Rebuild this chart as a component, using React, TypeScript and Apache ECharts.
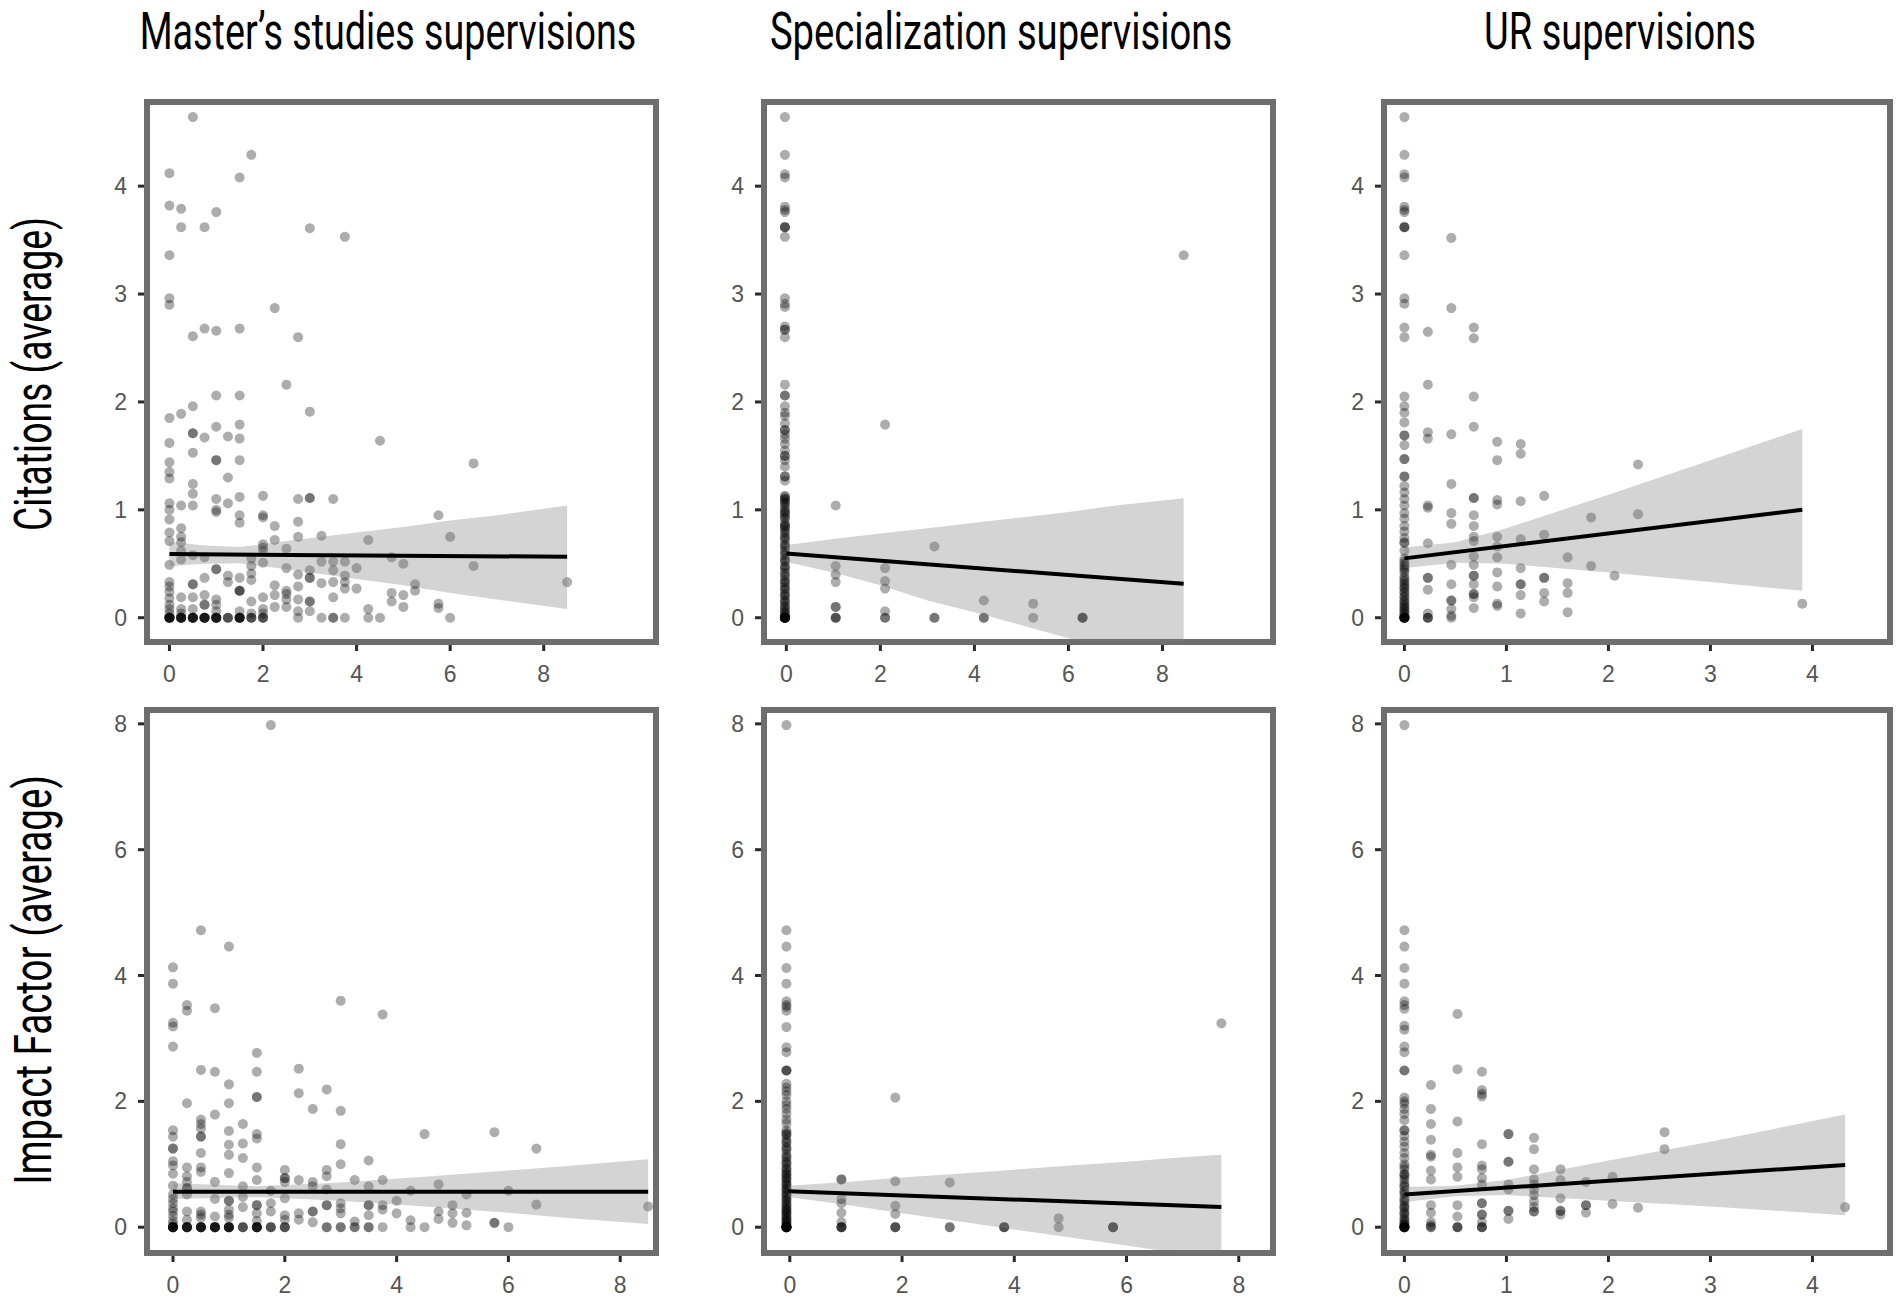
import React, { useEffect, useRef } from "react";
import * as echarts from "echarts";

// ---------- tick labels ----------
const X_TICKS_EVEN = [0, 2, 4, 6, 8];
const X_TICKS_UNIT = [0, 1, 2, 3, 4];
const Y_TICKS_CIT = [0, 1, 2, 3, 4];
const Y_TICKS_IF = [0, 2, 4, 6, 8];

const COLUMN_TITLES = ["Master\u2019s studies supervisions", "Specialization supervisions", "UR supervisions"];
const ROW_TITLES = ["Citations (average)", "Impact Factor (average)"];

// ---------- data: [x, [y values at that x]] ----------
const msCit = [
  [0, [4.12, 3.82, 3.36, 2.96, 2.9, 1.85, 1.62, 1.44, 1.35, 1.29, 1.06, 1.0, 0.91, 0.79, 0.71, 0.49, 0.33, 0.29, 0.24, 0.18, 0.12, 0.08, 0.04, 0, 0, 0, 0, 0, 0, 0]],
  [0.25, [3.79, 3.62, 1.89, 1.04, 0.83, 0.75, 0.7, 0.62, 0.54, 0.19, 0.08, 0.04, 0, 0, 0, 0, 0, 0]],
  [0.5, [4.64, 2.61, 1.96, 1.71, 1.71, 1.53, 1.24, 1.15, 1.04, 0.58, 0.31, 0.31, 0.19, 0.08, 0, 0, 0, 0, 0, 0]],
  [0.75, [3.62, 2.68, 1.67, 0.56, 0.37, 0.21, 0.12, 0.12, 0, 0, 0, 0, 0, 0]],
  [1, [3.76, 2.66, 2.06, 1.77, 1.46, 1.46, 1.1, 1.0, 0.98, 0.45, 0.45, 0.17, 0.12, 0.06, 0, 0, 0, 0, 0, 0]],
  [1.25, [1.68, 1.3, 1.06, 0.39, 0.33, 0, 0, 0]],
  [1.5, [4.08, 2.68, 2.06, 1.79, 1.66, 1.46, 1.12, 0.95, 0.88, 0.37, 0.25, 0.25, 0.25, 0.06, 0, 0, 0, 0, 0, 0]],
  [1.75, [4.29, 0.55, 0.48, 0.41, 0.35, 0.15, 0.04, 0, 0, 0]],
  [2, [1.13, 0.95, 0.93, 0.68, 0.65, 0.62, 0.51, 0.19, 0.08, 0.04, 0, 0, 0]],
  [2.25, [2.87, 0.85, 0.72, 0.3, 0.21, 0.1]],
  [2.5, [2.16, 0.64, 0.46, 0.25, 0.22, 0.17, 0.1]],
  [2.75, [2.6, 1.1, 0.89, 0.75, 0.4, 0.29, 0.17, 0.06, 0]],
  [3, [3.61, 1.91, 1.11, 1.11, 0.44, 0.37, 0.37, 0.15, 0.15, 0.06]],
  [3.25, [0.76, 0.52, 0.32, 0]],
  [3.5, [1.1, 0.52, 0.44, 0.33, 0.19, 0, 0]],
  [3.75, [3.53, 0.52, 0.39, 0.33, 0.27, 0]],
  [4, [0.46, 0.27]],
  [4.25, [0.72, 0.08, 0]],
  [4.5, [1.64, 0]],
  [4.75, [0.56, 0.23, 0.15]],
  [5, [0.5, 0.21, 0.1]],
  [5.25, [0.31, 0.25]],
  [5.75, [0.95, 0.13, 0.09]],
  [6, [0.75, 0]],
  [6.5, [1.43, 0.48]],
  [8.5, [0.33]],
];
const msCitLine = [[0, 0.59], [8.5, 0.565]];
const msCitBand = [
  [0, 0.477, 0.705], [0.75, 0.5, 0.67], [1.5, 0.506, 0.656], [2.5, 0.45, 0.71], [4, 0.36, 0.79],
  [5, 0.3, 0.84], [6, 0.23, 0.9], [7, 0.17, 0.95], [8.5, 0.08, 1.04],
];

const spCit = [
  [-0.03, [4.64, 4.29, 4.11, 4.08, 3.81, 3.78, 3.76, 3.62, 3.62, 3.62, 3.53, 2.96, 2.91, 2.88, 2.7, 2.67, 2.67, 2.6, 2.16, 2.06, 2.06,
    1.96, 1.9, 1.87, 1.8, 1.74, 1.74, 1.7, 1.66, 1.61, 1.55, 1.5, 1.5, 1.46, 1.4, 1.31, 1.31, 1.27, 1.13, 1.1, 1.1, 1.08, 1.05, 1.02, 0.98, 0.97,
    0.95, 0.92, 0.88, 0.85, 0.84, 0.82, 0.78, 0.75, 0.72, 0.68, 0.65, 0.62, 0.58, 0.55, 0.52, 0.48, 0.45, 0.42, 0.38, 0.35, 0.32,
    0.29, 0.26, 0.23, 0.2, 0.17, 0.14, 0.11, 0.08, 0.05, 0.03, 1.12, 1.06, 1.0, 0.93, 0.86, 0.8, 0.74, 0.67, 0.6, 0.53, 0.47,
    0.4, 0.33, 0.27, 0.21, 0.15, 0.1, 0.06, 0.02, 0, 0, 0, 0, 0, 0, 0, 0, 0, 0]],
  [1.05, [1.04, 0.48, 0.4, 0.33, 0.1, 0.1, 0, 0, 0]],
  [2.1, [1.79, 0.46, 0.34, 0.27, 0.06, 0, 0]],
  [3.15, [0.66, 0, 0]],
  [4.2, [0.16, 0, 0]],
  [5.25, [0.13, 0]],
  [6.3, [0, 0, 0]],
  [8.45, [3.36]],
];
const spCitLine = [[0, 0.596], [8.45, 0.314]];
const spCitBand = [
  [0, 0.517, 0.675], [1, 0.42, 0.73], [2, 0.3, 0.78], [3, 0.16, 0.83], [4, 0.05, 0.88],
  [5, -0.07, 0.93], [6, -0.19, 0.98], [7, -0.31, 1.04], [8.45, -0.48, 1.108],
];

const urCit = [
  [0, [4.64, 4.29, 4.11, 4.08, 3.81, 3.78, 3.76, 3.62, 3.62, 3.62, 3.36, 2.96, 2.91, 2.69, 2.6, 2.05, 1.96, 1.9, 1.81, 1.69, 1.69,
    1.6, 1.47, 1.47, 1.31, 1.31, 1.22, 1.16, 1.1, 1.04, 0.97, 0.92, 0.85, 0.8, 0.74, 0.7, 0.69, 0.62, 0.55, 0.5, 0.46, 0.42,
    0.38, 0.34, 0.3, 0.27, 0.23, 0.2, 0.16, 0.13, 0.1, 0.07, 0.04, 0.02, 0.52, 0.44, 0.36, 0.28, 0.19, 0.11, 0.05,
    0.48, 0.32, 0.24, 0.15, 0.08, 0, 0, 0, 0, 0, 0, 0, 0]],
  [0.23, [2.65, 2.16, 1.72, 1.66, 1.04, 1.02, 0.69, 0.37, 0.37, 0.26, 0.04, 0, 0, 0]],
  [0.46, [3.52, 2.87, 1.7, 1.24, 0.97, 0.87, 0.49, 0.31, 0.16, 0.16, 0.08, 0.02, 0]],
  [0.68, [2.69, 2.59, 2.05, 1.77, 1.11, 1.11, 0.95, 0.85, 0.75, 0.71, 0.57, 0.49, 0.39, 0.39, 0.31, 0.22, 0.22, 0.19, 0.09]],
  [0.91, [1.63, 1.46, 1.09, 1.05, 0.75, 0.66, 0.56, 0.42, 0.29, 0.13, 0.11]],
  [1.14, [1.61, 1.52, 1.08, 0.73, 0.46, 0.31, 0.31, 0.21, 0.04]],
  [1.37, [1.13, 0.77, 0.37, 0.37, 0.23, 0.15]],
  [1.6, [0.56, 0.32, 0.23, 0.05]],
  [1.83, [0.93, 0.48]],
  [2.06, [0.39]],
  [2.29, [1.42, 0.96]],
  [3.9, [0.13]],
];
const urCitLine = [[0, 0.55], [3.9, 1.0]];
const urCitBand = [
  [0, 0.46, 0.65], [0.5, 0.51, 0.7], [1, 0.5, 0.83], [2, 0.42, 1.14], [3, 0.33, 1.46], [3.9, 0.25, 1.75],
];

const msIf = [
  [0, [4.13, 3.87, 3.25, 3.19, 2.87, 1.54, 1.44, 1.25, 1.25, 1.05, 0.98, 0.85, 0.66, 0.52, 0.45, 0.38, 0.3, 0.25, 0.18, 0.1, 0.05, 0, 0, 0, 0, 0, 0, 0]],
  [0.25, [3.53, 3.44, 1.97, 0.95, 0.81, 0.72, 0.62, 0.62, 0.52, 0.25, 0.12, 0, 0, 0, 0, 0, 0]],
  [0.5, [4.72, 2.5, 1.71, 1.64, 1.57, 1.44, 1.44, 1.18, 0.95, 0.88, 0.25, 0.2, 0.15, 0, 0, 0, 0, 0, 0]],
  [0.75, [3.48, 2.47, 1.79, 0.72, 0.45, 0.17, 0, 0, 0, 0, 0, 0]],
  [1, [4.46, 2.27, 1.97, 1.53, 1.31, 1.15, 0.86, 0.42, 0.42, 0.28, 0.2, 0.15, 0, 0, 0, 0, 0, 0]],
  [1.25, [1.64, 1.33, 1.1, 0.65, 0.48, 0.32, 0, 0, 0]],
  [1.5, [2.77, 2.47, 2.07, 2.07, 1.48, 1.41, 0.95, 0.75, 0.35, 0.35, 0.22, 0.1, 0, 0, 0, 0, 0, 0]],
  [1.75, [7.98, 0.58, 0.38, 0.25, 0, 0, 0]],
  [2, [0.91, 0.78, 0.78, 0.72, 0.46, 0.19, 0.12, 0, 0, 0]],
  [2.25, [2.52, 2.13, 0.75, 0.22, 0.12]],
  [2.5, [1.88, 0.72, 0.65, 0.25, 0.25, 0.08]],
  [2.75, [2.19, 0.91, 0.81, 0.6, 0.35, 0.35, 0, 0]],
  [3, [3.6, 1.85, 1.32, 1.0, 0.38, 0.3, 0.22, 0, 0]],
  [3.25, [0.75, 0.09, 0, 0]],
  [3.5, [1.06, 0.65, 0.35, 0.35, 0.19, 0, 0]],
  [3.75, [3.38, 0.75, 0.35, 0.28, 0]],
  [4, [0.42, 0.22]],
  [4.25, [0.58, 0.11, 0]],
  [4.5, [1.48, 0]],
  [4.75, [0.68, 0.25, 0.13]],
  [5, [0.35, 0.22, 0.07]],
  [5.25, [0.52, 0.23, 0.03]],
  [5.75, [1.51, 0.07, 0.07]],
  [6, [0.58, 0]],
  [6.5, [1.25, 0.36]],
  [8.5, [0.33]],
];
const msIfLine = [[0, 0.563], [8.5, 0.563]];
const msIfBand = [
  [0, 0.45, 0.7], [1.5, 0.48, 0.65], [3, 0.42, 0.71], [4.5, 0.33, 0.8], [6, 0.23, 0.9], [7, 0.15, 0.97], [8.5, 0.05, 1.08],
];

const spIf = [
  [-0.06, [7.98, 4.72, 4.46, 4.12, 3.87, 3.59, 3.53, 3.5, 3.44, 3.18, 2.86, 2.78, 2.49, 2.49, 2.49, 2.28, 2.22, 2.16, 2.1, 2.0,
    1.94, 1.88, 1.8, 1.71, 1.65, 1.54, 1.5, 1.46, 1.4, 1.34, 1.28, 1.22, 1.16, 1.1, 1.05, 1.0, 0.95, 0.9, 0.86, 0.82, 0.78,
    0.74, 0.7, 0.66, 0.62, 0.58, 0.54, 0.5, 0.46, 0.42, 0.38, 0.34, 0.3, 0.27, 0.24, 0.21, 0.18, 0.15, 0.12, 0.09, 0.06,
    0.03, 1.48, 1.36, 1.25, 1.12, 1.02, 0.92, 0.84, 0.77, 0.68, 0.6, 0.52, 0.44, 0.36, 0.29, 0.22, 0.14, 0.08, 0.02,
    0, 0, 0, 0, 0, 0, 0, 0, 0, 0]],
  [0.92, [0.76, 0.76, 0.45, 0.38, 0.23, 0.08, 0, 0, 0, 0]],
  [1.88, [2.06, 0.73, 0.34, 0.21, 0, 0, 0]],
  [2.85, [0.71, 0, 0]],
  [3.82, [0, 0, 0]],
  [4.79, [0.14, 0]],
  [5.76, [0, 0, 0]],
  [7.69, [3.24]],
];
const spIfLine = [[-0.03, 0.57], [7.69, 0.32]];
const spIfBand = [
  [-0.03, 0.48, 0.66], [1, 0.355, 0.72], [2, 0.22, 0.79], [3, 0.095, 0.85], [4, -0.035, 0.915],
  [5, -0.165, 0.98], [6, -0.29, 1.04], [7, -0.425, 1.11], [7.69, -0.51, 1.15],
];

const urIf = [
  [0, [7.98, 4.72, 4.46, 4.12, 3.87, 3.59, 3.53, 3.47, 3.2, 3.14, 2.87, 2.78, 2.49, 2.49, 2.06, 2.0, 1.96, 1.88, 1.8, 1.7,
    1.54, 1.54, 1.45, 1.36, 1.28, 1.18, 1.1, 1.0, 0.92, 0.84, 0.84, 0.76, 0.7, 0.64, 0.58, 0.52, 0.46, 0.4, 0.35, 0.3, 0.25,
    0.2, 0.15, 0.1, 0.06, 0.03, 0.96, 0.8, 0.66, 0.55, 0.43, 0.32, 0.22, 0.12, 0.05, 0, 0, 0, 0, 0, 0, 0, 0]],
  [0.26, [2.26, 1.88, 1.64, 1.39, 1.15, 1.12, 0.9, 0.76, 0.35, 0.23, 0.08, 0.03, 0, 0]],
  [0.52, [3.39, 2.51, 1.68, 1.18, 0.95, 0.8, 0.35, 0.17, 0, 0, 0]],
  [0.76, [2.47, 2.18, 2.12, 2.08, 1.32, 0.98, 0.92, 0.78, 0.68, 0.38, 0.38, 0.2, 0.2, 0.08, 0, 0, 0]],
  [1.02, [1.48, 1.48, 1.04, 1.04, 0.68, 0.6, 0.26, 0.26, 0.13]],
  [1.27, [1.42, 1.24, 0.92, 0.76, 0.68, 0.6, 0.51, 0.41, 0.32, 0.25, 0.25]],
  [1.53, [0.92, 0.75, 0.46, 0.26, 0.26, 0.2]],
  [1.78, [0.72, 0.35, 0.35, 0.23]],
  [2.04, [0.8, 0.37]],
  [2.29, [0.31]],
  [2.55, [1.51, 1.24]],
  [4.32, [0.32]],
];
const urIfLine = [[0, 0.52], [4.32, 0.99]];
const urIfBand = [
  [0, 0.4, 0.64], [0.5, 0.49, 0.66], [1, 0.51, 0.75], [2, 0.42, 1.06], [3, 0.33, 1.36], [4.32, 0.19, 1.79],
];

// ---------- layout (pixels) ----------
const COL_LEFT = [147, 764, 1384];
const COL_WIDTH = [509, 509, 506];
const ROW_TOP = [102, 710];
const ROW_HEIGHT = [540, 543];
const BORDER = 6;
const TICK_LEN = 9;

const PANELS = [
  { r: 0, c: 0, pts: msCit, line: msCitLine, band: msCitBand, xMin: -0.48, xMax: 10.4, xTicks: X_TICKS_EVEN },
  { r: 0, c: 1, pts: spCit, line: spCitLine, band: spCitBand, xMin: -0.475, xMax: 10.35, xTicks: X_TICKS_EVEN },
  { r: 0, c: 2, pts: urCit, line: urCitLine, band: urCitBand, xMin: -0.2, xMax: 4.76, xTicks: X_TICKS_UNIT },
  { r: 1, c: 0, pts: msIf, line: msIfLine, band: msIfBand, xMin: -0.465, xMax: 8.64, xTicks: X_TICKS_EVEN },
  { r: 1, c: 1, pts: spIf, line: spIfLine, band: spIfBand, xMin: -0.46, xMax: 8.61, xTicks: X_TICKS_EVEN },
  { r: 1, c: 2, pts: urIf, line: urIfLine, band: urIfBand, xMin: -0.2, xMax: 4.76, xTicks: X_TICKS_UNIT },
];
const ROW_Y = [
  { min: -0.225, max: 4.78, ticks: Y_TICKS_CIT },
  { min: -0.41, max: 8.22, ticks: Y_TICKS_IF },
];

const TITLE_FONT = "52px Roboto, 'Noto Sans', sans-serif";
const TITLE_POS = [[388, 31, 497], [1001, 31, 462], [1620, 31, 272]];
const ROW_POS = [[33, 374, 314], [33, 980, 410]];

function measure(text: string, font: string): number {
  const ctx = document.createElement("canvas").getContext("2d");
  if (!ctx) return 1;
  ctx.font = font;
  return ctx.measureText(text).width || 1;
}

function flatten(cols: any[]): number[][] {
  const out: number[][] = [];
  cols.forEach(([x, ys]) => ys.forEach((y: number) => out.push([x, y])));
  return out;
}

export default function App() {
  const ref = useRef<HTMLDivElement>(null);
  useEffect(() => {
    if (!ref.current) return;
    const chart = echarts.init(ref.current, null, { renderer: "svg" });
    const grid: any[] = [];
    const xAxis: any[] = [];
    const yAxis: any[] = [];
    const series: any[] = [];
    const labelStyle = { color: "#555", fontSize: 23, fontFamily: "'Liberation Sans', Arial, sans-serif" };
    PANELS.forEach((p, i) => {
      const ry = ROW_Y[p.r];
      grid.push({
        left: COL_LEFT[p.c], top: ROW_TOP[p.r], width: COL_WIDTH[p.c], height: ROW_HEIGHT[p.r],
        show: true, borderColor: "#6e6e6e", borderWidth: BORDER, backgroundColor: "transparent",
        containLabel: false, outerBoundsMode: "none",
      });
      xAxis.push({
        type: "value", gridIndex: i, min: p.xMin, max: p.xMax, position: "bottom",
        splitLine: { show: false }, axisLine: { show: false, onZero: false },
        axisTick: { show: false },
        axisLabel: { ...labelStyle, margin: 20, customValues: p.xTicks },
      });
      yAxis.push({
        type: "value", gridIndex: i, min: ry.min, max: ry.max, position: "left",
        splitLine: { show: false }, axisLine: { show: false, onZero: false },
        axisTick: { show: false },
        axisLabel: { ...labelStyle, margin: 20, customValues: ry.ticks },
      });
      series.push({
        type: "scatter", xAxisIndex: i, yAxisIndex: i, data: flatten(p.pts),
        symbolSize: 10, itemStyle: { color: "rgba(0,0,0,0.4)" }, z: 2, silent: true,
      });
      const band = p.band;
      series.push({
        type: "custom", xAxisIndex: i, yAxisIndex: i, data: band, clip: true, z: 3, silent: true,
        encode: { x: 0, y: [1, 2] },
        renderItem: (params: any, api: any) => {
          if (params.dataIndex !== 0) return null;
          const hi = band.map((b) => api.coord([b[0], b[2]]));
          const lo = band.slice().reverse().map((b) => api.coord([b[0], b[1]]));
          return { type: "polygon", shape: { points: hi.concat(lo) }, style: { fill: "rgba(120,120,120,0.32)" } };
        },
      });
      series.push({
        type: "line", xAxisIndex: i, yAxisIndex: i, data: p.line, symbol: "none", z: 4, silent: true,
        lineStyle: { color: "#000", width: 4 },
      });
    });

    const graphic: any[] = [];
    COLUMN_TITLES.forEach((t, i) => {
      const [cx, cy, w] = TITLE_POS[i];
      const s = w / measure(t, TITLE_FONT);
      graphic.push({
        type: "text", x: cx, y: cy, scaleX: s, silent: true,
        style: { text: t, font: TITLE_FONT, fill: "#000", align: "center", verticalAlign: "middle", textAlign: "center", textVerticalAlign: "middle" },
      });
    });
    ROW_TITLES.forEach((t, i) => {
      const [cx, cy, w] = ROW_POS[i];
      const s = w / measure(t, TITLE_FONT);
      graphic.push({
        type: "text", x: cx, y: cy, scaleX: s, rotation: Math.PI / 2, silent: true,
        style: { text: t, font: TITLE_FONT, fill: "#000", align: "center", verticalAlign: "middle", textAlign: "center", textVerticalAlign: "middle" },
      });
    });

    const option: any = { animation: false, backgroundColor: "#fff", grid, xAxis, yAxis, series, graphic };
    chart.setOption(option);

    // axis tick marks, placed through the axes' own scales
    const tickStyle = { stroke: "#2a2a2a", lineWidth: 3 };
    PANELS.forEach((p, i) => {
      const ry = ROW_Y[p.r];
      const bottom = ROW_TOP[p.r] + ROW_HEIGHT[p.r];
      const left = COL_LEFT[p.c];
      p.xTicks.forEach((v) => {
        const pt = chart.convertToPixel({ gridIndex: i }, [v, ry.min]);
        if (!pt) return;
        graphic.push({
          type: "line", silent: true, z: 10,
          shape: { x1: pt[0], y1: bottom + BORDER / 2, x2: pt[0], y2: bottom + TICK_LEN },
          style: tickStyle,
        });
      });
      ry.ticks.forEach((v) => {
        const pt = chart.convertToPixel({ gridIndex: i }, [p.xMin, v]);
        if (!pt) return;
        graphic.push({
          type: "line", silent: true, z: 10,
          shape: { x1: left - BORDER / 2, y1: pt[1], x2: left - TICK_LEN, y2: pt[1] },
          style: tickStyle,
        });
      });
    });
    chart.setOption({ graphic });
    return () => chart.dispose();
  }, []);
  return <div ref={ref} style={{ position: "fixed", left: 0, top: 0, width: 1901, height: 1299, background: "#fff" }} />;
}
